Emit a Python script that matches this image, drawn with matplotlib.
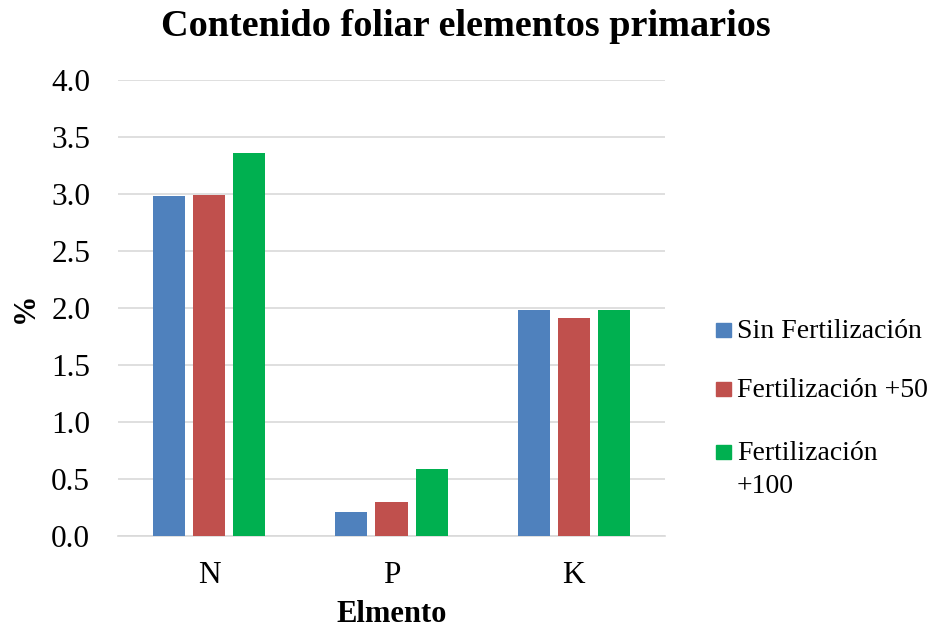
import numpy as np
import matplotlib
matplotlib.use("Agg")
import matplotlib.pyplot as plt
from matplotlib.patches import Rectangle

# data
elementos = ["N", "P", "K"]
sin_fert = [2.98, 0.21, 1.98]
fert_50 = [2.99, 0.30, 1.91]
fert_100 = [3.36, 0.59, 1.98]
series_labels = ["Sin Fertilización", "Fertilización +50", "Fertilización\n+100"]
colors = ["#4F81BD", "#C0504D", "#00B050"]

plt.rcParams['font.family'] = ['Liberation Serif', 'DejaVu Serif']

W, H = 931, 629
fig = plt.figure(figsize=(W / 100, H / 100), dpi=100)
ax = fig.add_axes([118 / W, 1 - 536 / H, 547 / W, 456 / H])

x = np.arange(len(elementos))
width = 0.176
step = 0.22
for i, (vals, lab, col) in enumerate(zip([sin_fert, fert_50, fert_100], series_labels, colors)):
    ax.bar(x + (i - 1) * step, vals, width, color=col, label=lab, zorder=3)

ax.set_xlim(-0.5, 2.5)
ax.set_ylim(0, 4.0)
yt = np.arange(0, 4.01, 0.5)
ax.set_yticks(yt)
ax.set_yticklabels([f"{v:.1f}" for v in yt])
ax.set_xticks(x)
ax.set_xticklabels(elementos)
ax.tick_params(axis='both', labelsize=22.5, length=0)
ax.tick_params(axis='y', pad=20)
ax.tick_params(axis='x', pad=18)
ax.grid(axis='y', color='#d9d9d9', linewidth=1.2, zorder=0)
for s in ['top', 'right', 'left']:
    ax.spines[s].set_visible(False)
ax.spines['bottom'].set_color('#d9d9d9')
ax.spines['bottom'].set_linewidth(1.2)

ax.set_ylabel("%", fontsize=22, fontweight='bold', labelpad=8)
ax.set_xlabel("Elmento", fontsize=22, fontweight='bold', labelpad=7)
fig.text(466 / W, 1 - 26 / H, "Contenido foliar elementos primarios",
         fontsize=27.5, fontweight='bold', ha='center', va='center')

# legend drawn by hand so the square lines up with the first text line
baselines = [338, 397, 460]
for lab, col, yb in zip(series_labels, colors, baselines):
    fig.add_artist(Rectangle((716 / W, 1 - (yb - 1) / H), 15 / W, 14 / H,
                             transform=fig.transFigure, color=col))
    for k, line in enumerate(lab.split("\n")):
        fig.text(737 / W, 1 - (yb + 33 * k) / H, line, fontsize=20,
                 ha='left', va='baseline')

fig.savefig("out.png", dpi=100)
